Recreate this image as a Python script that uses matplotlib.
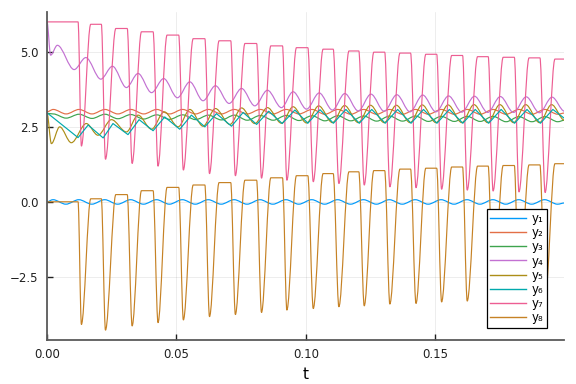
import matplotlib
matplotlib.use("Agg")
import matplotlib.pyplot as plt
from matplotlib.path import Path
from matplotlib.patches import PathPatch
from matplotlib.lines import Line2D

# ---------------- data ----------------
labels = ["y\u2081", "y\u2082", "y\u2083", "y\u2084", "y\u2085", "y\u2086", "y\u2087", "y\u2088"]
colors = ["#009AFA", "#E36F47", "#3EA44E", "#C371D2", "#AC8E18", "#00A9AD", "#ED5E93", "#C68225"]

# y1: small sinusoid around zero (extrema)
t1 = [0, 0.0023, 0.0073, 0.0123, 0.0173, 0.0223, 0.0273, 0.0323, 0.0373, 0.0423, 0.0473,
      0.0523, 0.0573, 0.0623, 0.0673, 0.0723, 0.0773, 0.0823, 0.0873, 0.0923, 0.0973,
      0.1023, 0.1073, 0.1123, 0.1173, 0.1223, 0.1273, 0.1323, 0.1373, 0.1423, 0.1473,
      0.1523, 0.1573, 0.1623, 0.1673, 0.1723, 0.1773, 0.1823, 0.1873, 0.1923, 0.1973, 0.2000]
y1 = [0.0, 0.07, -0.08, 0.07, -0.08, 0.07, -0.08, 0.07, -0.08, 0.07, -0.08,
      0.07, -0.08, 0.07, -0.08, 0.07, -0.08, 0.07, -0.08, 0.07, -0.08,
      0.07, -0.08, 0.07, -0.08, 0.07, -0.08, 0.07, -0.08, 0.07, -0.08,
      0.07, -0.08, 0.07, -0.08, 0.07, -0.08, 0.07, -0.08, 0.07, -0.08, -0.04]

# y2 and y3: small oscillations near 3 (extrema)
t23 = [0, 0.0024, 0.0074, 0.0124, 0.0174, 0.0224, 0.0274, 0.0324, 0.0374, 0.0424, 0.0474,
       0.0524, 0.0574, 0.0624, 0.0674, 0.0724, 0.0774, 0.0824, 0.0874, 0.0924, 0.0974,
       0.1024, 0.1074, 0.1124, 0.1174, 0.1224, 0.1274, 0.1324, 0.1374, 0.1424, 0.1474,
       0.1524, 0.1574, 0.1624, 0.1674, 0.1724, 0.1774, 0.1824, 0.1874, 0.1924, 0.1974, 0.2000]
y2 = [3.00, 3.08, 2.93, 3.08, 2.93, 3.08, 2.93, 3.08, 2.93, 3.08, 2.93,
      3.08, 2.93, 3.08, 2.93, 3.08, 2.93, 3.08, 2.93, 3.08, 2.93,
      3.08, 2.92, 3.08, 2.92, 3.08, 2.92, 3.08, 2.92, 3.08, 2.92,
      3.08, 2.92, 3.08, 2.92, 3.08, 2.92, 3.08, 2.92, 3.08, 2.92, 2.96]
y3 = [2.95, 2.93, 2.79, 2.92, 2.78, 2.92, 2.77, 2.91, 2.76, 2.90, 2.75,
      2.90, 2.74, 2.89, 2.73, 2.89, 2.72, 2.88, 2.72, 2.88, 2.71,
      2.87, 2.70, 2.87, 2.70, 2.86, 2.69, 2.86, 2.69, 2.86, 2.68,
      2.85, 2.68, 2.85, 2.68, 2.85, 2.67, 2.84, 2.67, 2.84, 2.67, 2.72]

# y4: decaying oscillation from 6 (extrema)
t4 = [0, 0.0014, 0.0040, 0.0105, 0.0150, 0.0208, 0.0253, 0.0307, 0.0352, 0.0404, 0.0451,
      0.0504, 0.0552, 0.0603, 0.0651, 0.0704, 0.0752, 0.0803, 0.0852, 0.0906, 0.0951,
      0.1003, 0.1052, 0.1103, 0.1151, 0.1203, 0.1252, 0.1303, 0.1352, 0.1403, 0.1452,
      0.1503, 0.1552, 0.1603, 0.1652, 0.1703, 0.1752, 0.1803, 0.1852, 0.1903, 0.1952, 0.2000]
y4 = [6.00, 4.89, 5.22, 4.41, 4.81, 4.09, 4.52, 3.81, 4.28, 3.64, 4.11,
      3.47, 4.00, 3.37, 3.87, 3.28, 3.78, 3.20, 3.72, 3.14, 3.67,
      3.09, 3.63, 3.06, 3.61, 3.03, 3.59, 3.02, 3.57, 3.00, 3.56,
      3.00, 3.53, 2.99, 3.52, 2.98, 3.51, 2.98, 3.50, 2.97, 3.49, 3.02]

# y5: oscillation rising towards ~2.9 (extrema)
t5 = [0, 0.0017, 0.0049, 0.0094, 0.0152, 0.0197, 0.0249, 0.0307, 0.0352, 0.0404, 0.0453,
      0.0507, 0.0552, 0.0603, 0.0651, 0.0707, 0.0752, 0.0803, 0.0852, 0.0906, 0.0951,
      0.1003, 0.1050, 0.1103, 0.1150, 0.1203, 0.1250, 0.1303, 0.1350, 0.1403, 0.1450,
      0.1503, 0.1550, 0.1603, 0.1650, 0.1703, 0.1750, 0.1803, 0.1850, 0.1903, 0.1950, 0.2000]
y5 = [2.95, 1.94, 2.50, 1.97, 2.61, 2.22, 2.74, 2.33, 2.89, 2.42, 3.00,
      2.50, 3.08, 2.52, 3.11, 2.58, 3.13, 2.61, 3.14, 2.62, 3.17,
      2.63, 3.20, 2.64, 3.21, 2.64, 3.22, 2.64, 3.22, 2.64, 3.23,
      2.64, 3.23, 2.64, 3.24, 2.64, 3.24, 2.64, 3.24, 2.64, 3.24, 2.72]

# y6: triangular ripple (corner points)
t6 = [0, 0.0120, 0.0159, 0.0217, 0.0255, 0.0313, 0.0356, 0.0410, 0.0455, 0.0513, 0.0558,
      0.0610, 0.0655, 0.0713, 0.0758, 0.0810, 0.0857, 0.0909, 0.0958, 0.1008, 0.1055,
      0.1107, 0.1155, 0.1207, 0.1255, 0.1307, 0.1355, 0.1407, 0.1455, 0.1507, 0.1555,
      0.1607, 0.1655, 0.1707, 0.1755, 0.1807, 0.1855, 0.1907, 0.1955, 0.2000]
y6 = [2.97, 2.14, 2.56, 2.13, 2.61, 2.24, 2.74, 2.37, 2.83, 2.42, 2.89,
      2.50, 2.94, 2.52, 2.98, 2.58, 3.02, 2.61, 3.06, 2.62, 3.07,
      2.62, 3.08, 2.62, 3.08, 2.62, 3.08, 2.62, 3.08, 2.62, 3.08,
      2.62, 3.08, 2.62, 3.08, 2.62, 3.08, 2.62, 3.08, 2.78]

# y7 / y8: pulse trains (shared timing)
t_drop = [0.0120, 0.0210, 0.0310, 0.0410, 0.0509, 0.0610, 0.0710, 0.0810, 0.0910, 0.1008,
          0.1106, 0.1205, 0.1305, 0.1405, 0.1506, 0.1606, 0.1705, 0.1806, 0.1905]
t_min = [0.0133, 0.0226, 0.0329, 0.0429, 0.0527, 0.0628, 0.0728, 0.0829, 0.0927, 0.1029,
         0.1128, 0.1226, 0.1325, 0.1426, 0.1525, 0.1624, 0.1724, 0.1824, 0.1925]
t_top = [0.0169, 0.0266, 0.0365, 0.0464, 0.0565, 0.0665, 0.0765, 0.0865, 0.0964, 0.1067,
         0.1167, 0.1263, 0.1364, 0.1464, 0.1564, 0.1664, 0.1763, 0.1863, 0.1963]
y7_start = 6.0
y7_min = [1.86, 1.42, 1.28, 1.19, 1.06, 0.94, 0.87, 0.79, 0.72, 0.67,
          0.61, 0.56, 0.50, 0.47, 0.42, 0.39, 0.36, 0.33, 0.31]
y7_top = [5.92, 5.78, 5.67, 5.56, 5.44, 5.37, 5.28, 5.20, 5.14, 5.09,
          5.03, 4.99, 4.96, 4.92, 4.88, 4.84, 4.82, 4.80, 4.76]
y8_start = 0.0
y8_min = [-4.09, -4.28, -4.14, -4.03, -3.94, -3.83, -3.76, -3.69, -3.61, -3.56,
          -3.50, -3.47, -3.41, -3.39, -3.34, -3.31, -3.28, -3.24, -3.22]
y8_top = [0.10, 0.24, 0.37, 0.48, 0.56, 0.64, 0.72, 0.80, 0.87, 0.94,
          1.00, 1.04, 1.09, 1.12, 1.16, 1.19, 1.21, 1.23, 1.27]
t_end = 0.2

x_ticks = [0.0, 0.05, 0.10, 0.15]
x_tick_labels = ["0.00", "0.05", "0.10", "0.15"]
y_ticks = [-2.5, 0.0, 2.5, 5.0]
y_tick_labels = ["\u22122.5", "0.0", "2.5", "5.0"]


def pulse_series(start, mins, tops):
    ts, ys = [0.0], [start]
    level = start
    for td, tm, tt, ym, yt in zip(t_drop, t_min, t_top, mins, tops):
        ts += [td, tm, tt]
        ys += [level, ym, yt]
        level = yt
    ts.append(t_end)
    ys.append(level)
    return ts, ys


def smooth_path(ts, ys):
    verts = [(ts[0], ys[0])]
    codes = [Path.MOVETO]
    for i in range(1, len(ts)):
        a, b = ts[i - 1], ts[i]
        d = (b - a) / 3.0
        verts += [(a + d, ys[i - 1]), (b - d, ys[i]), (b, ys[i])]
        codes += [Path.CURVE4] * 3
    return Path(verts, codes)


t7, y7 = pulse_series(y7_start, y7_min, y7_top)
t8, y8 = pulse_series(y8_start, y8_min, y8_top)

series = [(t1, y1, True), (t23, y2, True), (t23, y3, True), (t4, y4, True),
          (t5, y5, True), (t6, y6, False), (t7, y7, True), (t8, y8, True)]

# ---------------- figure ----------------
fig = plt.figure(figsize=(5.76, 3.84), dpi=100)
ax = fig.add_axes([47 / 576, 44 / 384, (564 - 47) / 576, (340 - 12) / 384])

LW = 0.85
for (ts, ys, smooth), c in zip(series, colors):
    if smooth:
        ax.add_patch(PathPatch(smooth_path(ts, ys), fill=False, edgecolor=c, lw=LW,
                               capstyle="round", joinstyle="round"))
    else:
        ax.plot(ts, ys, color=c, lw=LW)

ax.set_xlim(0, 0.1998)
ax.set_ylim(-4.61, 6.33)
ax.set_xticks(x_ticks)
ax.set_xticklabels(x_tick_labels)
ax.set_yticks(y_ticks)
ax.set_yticklabels(y_tick_labels)
ax.grid(True, color="#000000", alpha=0.1, lw=0.5)
ax.set_axisbelow(True)
for s in ["top", "right"]:
    ax.spines[s].set_visible(False)
for s in ["left", "bottom"]:
    ax.spines[s].set_color("#5a5a5a")
    ax.spines[s].set_linewidth(1.3)
ax.tick_params(direction="in", length=4, width=1.0, color="#202020",
               labelsize=8.5, labelcolor="#202020", pad=6)
ax.set_xlabel("t", fontsize=11, labelpad=4)

handles = [Line2D([0], [0], color=c, lw=1.0) for c in colors]
leg = ax.legend(handles, labels, loc="lower right", bbox_to_anchor=(0.967, 0.037),
                borderaxespad=0, fontsize=8.5, frameon=True, fancybox=False,
                framealpha=1.0, edgecolor="#000000", handlelength=3.0,
                handletextpad=0.5, labelspacing=0.1, borderpad=0.3)
leg.get_frame().set_linewidth(0.9)

fig.savefig("out.png", dpi=100)
